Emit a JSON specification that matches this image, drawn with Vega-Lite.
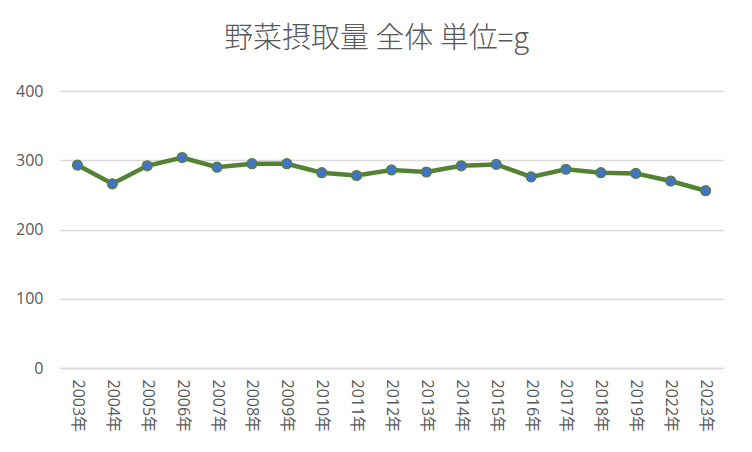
{
  "$schema": "https://vega.github.io/schema/vega-lite/v6.json",
  "autosize": {"type": "none"},
  "width": 663,
  "height": 277,
  "padding": {"left": 60, "top": 91, "right": 29, "bottom": 84},
  "background": "white",
  "title": {
    "text": "野菜摂取量 全体 単位=g",
    "font": "Noto Sans CJK JP",
    "fontSize": 29,
    "fontWeight": 300,
    "color": "#595959",
    "anchor": "middle",
    "dx": -15,
    "offset": 29
  },
  "data": {
    "values": [
      {"year": "2003年", "value": 293},
      {"year": "2004年", "value": 266},
      {"year": "2005年", "value": 292},
      {"year": "2006年", "value": 304},
      {"year": "2007年", "value": 290},
      {"year": "2008年", "value": 295},
      {"year": "2009年", "value": 295},
      {"year": "2010年", "value": 282},
      {"year": "2011年", "value": 278},
      {"year": "2012年", "value": 286},
      {"year": "2013年", "value": 283},
      {"year": "2014年", "value": 292},
      {"year": "2015年", "value": 294},
      {"year": "2016年", "value": 276},
      {"year": "2017年", "value": 287},
      {"year": "2018年", "value": 282},
      {"year": "2019年", "value": 281},
      {"year": "2022年", "value": 270},
      {"year": "2023年", "value": 256}
    ]
  },
  "encoding": {
    "x": {
      "field": "year",
      "type": "ordinal",
      "sort": null,
      "scale": {"paddingInner": 1, "paddingOuter": 0.5},
      "axis": {
        "title": null,
        "labelAngle": 90,
        "labelAlign": "left",
        "labelBaseline": "middle",
        "labelFont": "Open Sans, Noto Sans CJK JP",
        "labelFontSize": 16,
        "labelColor": "#595959",
        "labelPadding": 11,
        "ticks": false,
        "domainColor": "#d9d9d9",
        "domainWidth": 1.5,
        "grid": false
      }
    },
    "y": {
      "field": "value",
      "type": "quantitative",
      "scale": {"domain": [0, 400]},
      "axis": {
        "title": null,
        "values": [0, 100, 200, 300, 400],
        "labelFont": "Open Sans, Noto Sans CJK JP",
        "labelFontSize": 16,
        "labelColor": "#595959",
        "labelPadding": 17,
        "ticks": false,
        "domain": false,
        "gridColor": "#d9d9d9",
        "gridWidth": 1.5
      }
    }
  },
  "layer": [
    {"mark": {"type": "line", "color": "#548235", "strokeWidth": 4.5}},
    {"mark": {"type": "point", "filled": true, "fill": "#4472C4", "stroke": "#548235", "strokeWidth": 1.2, "size": 100, "opacity": 1}}
  ],
  "config": {"view": {"stroke": null}}
}
